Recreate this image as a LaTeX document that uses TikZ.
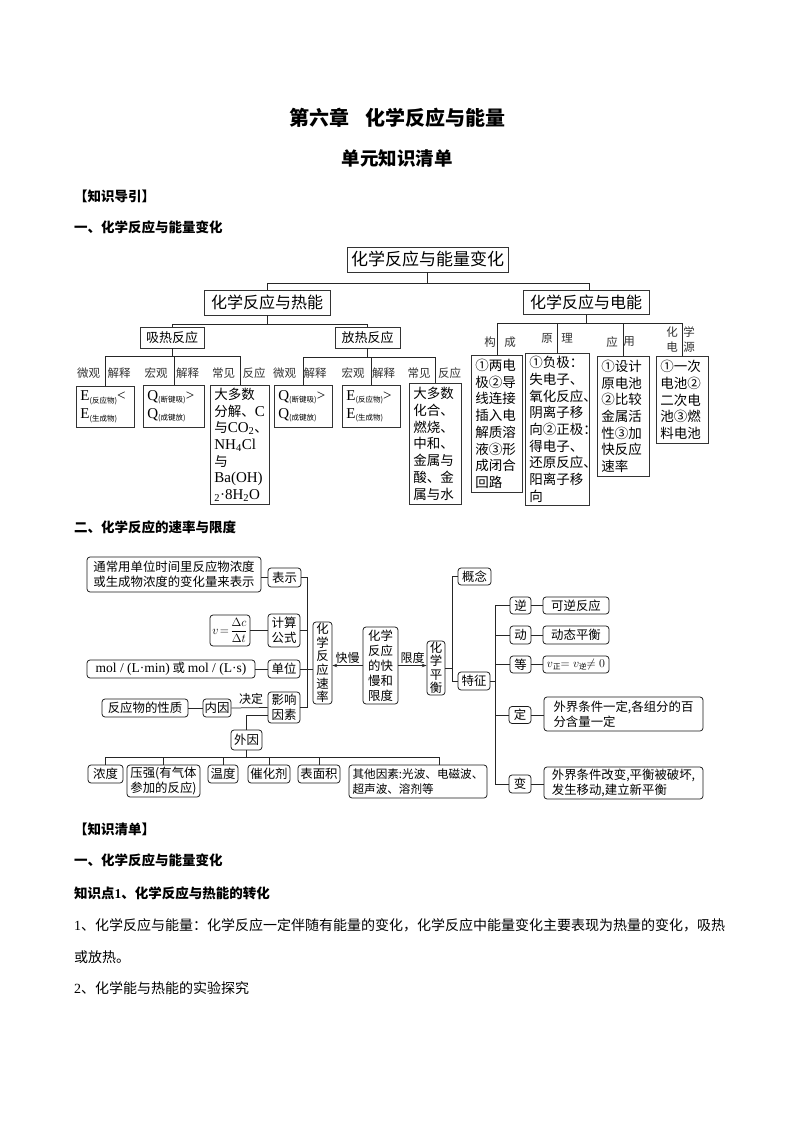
\documentclass[tikz,border=0pt]{standalone}
\usepackage[no-math]{fontspec}
\setmainfont{Noto Sans CJK SC}
\newfontfamily\tnr{Liberation Serif}
\usetikzlibrary{arrows.meta,calc}
\newcommand\fs[2]{\fontsize{#1}{#2}\selectfont}
\newcommand\sbz[1]{\raisebox{-2.5pt}{\fs{7.5}{8}#1}}
\newcommand\tn[1]{{\tnr\fontsize{15}{16.7}\selectfont #1}}
\begin{document}
\begin{tikzpicture}[x=1pt,y=-1pt,
  tb/.style={draw=black!80, line width=0.7pt, inner sep=0pt},
  tbt/.style={tb, anchor=north west, inner xsep=4pt, inner ysep=0pt, align=left, font=\fs{13.5}{16.7}},
  tl/.style={draw=black!85, line width=0.7pt},
  lbl/.style={font=\fs{11.5}{12}, text=black!80, inner sep=0pt},
  rb/.style={draw=black!90, rounded corners=3pt, line width=0.75pt, inner sep=0pt, align=center, font=\fs{12.4}{15}},
  cl/.style={draw=black!85, line width=0.75pt},
  arr/.style={cl, -{Stealth[length=5pt,width=3.5pt]}},
  hd/.style={anchor=west, inner sep=0pt, font=\bfseries\fs{13.5}{16}},
  bd/.style={anchor=west, inner sep=0pt, font=\fs{14}{16}}]
\path[fill=white] (0,0) rectangle (794,1123);

% ---- headings ----
\node[inner sep=0pt, font=\bfseries\fs{20}{24}] (title) at (397,118) {第六章\hspace{0.8em}化学反应与能量};
\node[inner sep=0pt, font=\bfseries\fs{18.5}{22}] (sub) at (397,158) {单元知识清单};
\node[hd] (h1) at (74,196) {【知识导引】};
\node[hd] (h2) at (74,227) {一、化学反应与能量变化};

% ---- diagram 1 ----
\node[tb, minimum width=161, minimum height=25, font=\fs{17}{20}] (R) at (427.5,259.5) {化学反应与能量变化};
\node[tb, minimum width=126, minimum height=25, font=\fs{16}{19}] (H) at (267,302.5) {化学反应与热能};
\node[tb, minimum width=126, minimum height=24, font=\fs{16}{19}] (D) at (586,302.5) {化学反应与电能};
\node[tb, minimum width=64, minimum height=21, font=\fs{13}{15}] (XR) at (172,337.5) {吸热反应};
\node[tb, minimum width=65, minimum height=21, font=\fs{13}{15}] (FR) at (367.5,337.5) {放热反应};

\node[tbt, minimum width=58, minimum height=41, text width=50, font=\fs{14}{18}] (E1) at (76,386)
  {\tn{E}\sbz{(反应物)}\tn{<}\\\tn{E}\sbz{(生成物)}};
\node[tbt, minimum width=61, minimum height=42, text width=53, font=\fs{14}{18}] (Q1) at (143,385)
  {\tn{Q}\sbz{(断键吸)}\tn{>}\\\tn{Q}\sbz{(成键放)}};
\node[tbt, minimum width=59, minimum height=119, text width=51] (B1) at (210,385)
  {大多数\\分解、\tn{C}\\与\tn{CO\textsubscript{2}}、\\\tn{NH\textsubscript{4}Cl}\\与\\\tn{Ba(OH)}\\\tn{\textsubscript{2}·8H\textsubscript{2}O}};
\node[tbt, minimum width=58, minimum height=42, text width=50, font=\fs{14}{18}] (Q2) at (274,385)
  {\tn{Q}\sbz{(断键吸)}\tn{>}\\\tn{Q}\sbz{(成键放)}};
\node[tbt, minimum width=58, minimum height=42, text width=50, font=\fs{14}{18}] (E2) at (342,385)
  {\tn{E}\sbz{(反应物)}\tn{>}\\\tn{E}\sbz{(生成物)}};
\node[tbt, minimum width=52, minimum height=121, text width=44] (B2) at (409,383)
  {大多数\\化合、\\燃烧、\\中和、\\金属与\\酸、金\\属与水};
\node[tbt, minimum width=51, minimum height=137, text width=43] (GC) at (471,355)
  {①两电\\极②导\\线连接\\插入电\\解质溶\\液③形\\成闭合\\回路};
\node[tbt, minimum width=64, minimum height=152, text width=56] (YL) at (525,353)
  {①负极：\\失电子、\\氧化反应\rlap{、}\\阴离子移\\向②正极\rlap{：}\\得电子、\\还原反应\rlap{、}\\阳离子移\\向};
\node[tbt, minimum width=52, minimum height=120, text width=44] (YY) at (597,356)
  {①设计\\原电池\\②比较\\金属活\\性③加\\快反应\\速率};
\node[tbt, minimum width=52, minimum height=87, text width=44] (DY) at (656,356)
  {①一次\\电池②\\二次电\\池③燃\\料电池};

\draw[tl] (R.south) -- ++(0,11) -| (H.north);
\draw[tl] (R.south) -- ++(0,11) -| ([xshift=3pt]D.north);
\draw[tl] (H.south) -- ++(0,9) -| (XR.north);
\draw[tl] (H.south) -- ++(0,9) -| (FR.north);
\foreach \c in {E1,Q1,B1} \draw[tl] (XR.south) -- ++(0,8) -| (\c.north);
\foreach \c in {Q2,E2,B2} \draw[tl] (FR.south) -- ++(0,9) -| (\c.north);
\foreach \c in {GC,YL,YY,DY} \draw[tl] (D.south) -- ++(0,8) -| (\c.north);

\node[lbl] (l1) at (88.5,373) {微观};
\node[lbl] (l2) at (119,373) {解释};
\node[lbl] (l3) at (156,373) {宏观};
\node[lbl] (l4) at (187.5,373) {解释};
\node[lbl] (l5) at (223.5,373) {常见};
\node[lbl] (l6) at (254,373) {反应};
\node[lbl] (l7) at (284.5,373) {微观};
\node[lbl] (l8) at (315,373) {解释};
\node[lbl] (l9) at (353,373) {宏观};
\node[lbl] (l10) at (383.5,373) {解释};
\node[lbl] (l11) at (419,373) {常见};
\node[lbl] (l12) at (449.5,373) {反应};
\node[lbl] (m1) at (490,342) {构};
\node[lbl] (m2) at (510,342) {成};
\node[lbl] (m3) at (547,338) {原};
\node[lbl] (m4) at (567,338) {理};
\node[lbl] (m5) at (612,342) {应};
\node[lbl] (m6) at (629,342) {用};
\node[lbl] (m7) at (672,332) {化};
\node[lbl] (m8) at (672,347) {电};
\node[lbl] (m9) at (689,332) {学};
\node[lbl] (m10) at (689,347) {源};

% ---- section 2 ----
\node[hd] (h3) at (74,527) {二、化学反应的速率与限度};

\node[rb, minimum width=174, minimum height=35] (A) at (174,574.5) {通常用单位时间里反应物浓度\\或生成物浓度的变化量来表示};
\node[rb, minimum width=33, minimum height=19] (bs) at (284.5,577.5) {表示};
\node[rb, minimum width=40, minimum height=31, font=\fs{11.5}{13}] (fm) at (230,630.5) {$v\!=\!\displaystyle\frac{\Delta c}{\Delta t}$};
\node[rb, minimum width=32, minimum height=33] (js) at (284,630.5) {计算\\公式};
\node[rb, minimum width=168, minimum height=18] (mol) at (171,669) {{\tnr\fs{13.5}{15}mol / (L·min)} 或 {\tnr\fs{13.5}{15}mol / (L·s)}};
\node[rb, minimum width=32, minimum height=18] (dw) at (284,669) {单位};
\node[rb, minimum width=19, minimum height=82, font=\fs{12.4}{13.6}] (SL) at (322.5,663) {化\\学\\反\\应\\速\\率};
\node[rb, minimum width=32, minimum height=31] (yx) at (284,707.5) {影响\\因素};
\node[rb, minimum width=28, minimum height=18] (ny) at (217,708) {内因};
\node[rb, minimum width=86, minimum height=18] (xz) at (145,708) {反应物的性质};
\node[font=\fs{12}{13}, inner sep=0pt] (jd) at (251,699) {决定};
\node[rb, minimum width=31, minimum height=20] (wy) at (246.5,740) {外因};
\node[rb, minimum width=35, minimum height=18] (nd) at (105.5,774) {浓度};
\node[rb, minimum width=73, minimum height=32] (yq) at (163.5,781) {压强(有气体\\参加的反应)};
\node[rb, minimum width=30, minimum height=18] (wd) at (223,774) {温度};
\node[rb, minimum width=42, minimum height=18] (ch) at (269,774) {催化剂};
\node[rb, minimum width=42, minimum height=18] (bm) at (319,774) {表面积};
\node[rb, minimum width=138, minimum height=33, align=left, font=\fs{11.6}{15}] (qt) at (418,781.5) {其他因素:光波、电磁波、\\超声波、溶剂等};

\node[rb, minimum width=35, minimum height=77, font=\fs{12.4}{15}] (MID) at (380.5,665.5) {化学\\反应\\的快\\慢和\\限度};
\node[rb, minimum width=18, minimum height=54, font=\fs{12.4}{13.5}] (PH) at (436,668) {化\\学\\平\\衡};
\node[rb, minimum width=33, minimum height=17] (gn) at (474.5,576.5) {概念};
\node[rb, minimum width=32, minimum height=18] (tz) at (474,681) {特征};
\node[rb, minimum width=21, minimum height=17] (ni) at (520.5,605.5) {逆};
\node[rb, minimum width=66, minimum height=17] (kn) at (576,605.5) {可逆反应};
\node[rb, minimum width=21, minimum height=18] (dg) at (520.5,635) {动};
\node[rb, minimum width=66, minimum height=18] (dt) at (576,635) {动态平衡};
\node[rb, minimum width=21, minimum height=17] (dn) at (520.5,664.5) {等};
\node[rb, minimum width=66, minimum height=17, font=\fs{12.5}{14}] (ve) at (576,664.5) {$v$\raisebox{-2pt}{\fs{7.5}{8}正}$=v$\raisebox{-2pt}{\fs{7.5}{8}逆}$\neq0$};
\node[rb, minimum width=22, minimum height=17] (dd) at (520,715) {定};
\node[rb, minimum width=159, minimum height=34, align=left] (dtx) at (623.5,714) {外界条件一定,各组分的百\\分含量一定};
\node[rb, minimum width=22, minimum height=18] (bi) at (520,784) {变};
\node[rb, minimum width=159, minimum height=32, align=left] (btx) at (623.5,783) {外界条件改变,平衡被破坏,\\发生移动,建立新平衡};

\coordinate (t1) at (307,0);
\coordinate (t2) at (452,0);
\coordinate (t3) at (495,0);
\draw[cl] (A.east |- bs.west) -- (bs.west);
\draw[cl] (bs.east) -| (t1 |- yx.east) -- (yx.east);
\draw[cl] (fm.east) -- (js.west);
\draw[cl] (js.east) -- (js.east -| t1);
\draw[cl] (mol.east) -- (dw.west);
\draw[cl] (dw.east) -- (dw.east -| SL.west);
\draw[cl] (xz.east) -- (ny.west);
\draw[cl] (ny.east) -- (yx.west);
\draw[cl] ($(yx.west)+(0,7.5)$) -| (wy.north);
\foreach \c in {nd,yq,wd,ch,bm} \draw[cl] (wy.south) -- ++(0,7) -| (\c.north);
\draw[cl] (wy.south) -- ++(0,7) -| ($(qt.north)+(21,0)$);
\draw[arr] (MID.west) -- (MID.west -| SL.east) node[midway, above=2pt, inner sep=0pt, font=\fs{12}{13}] (km) {快慢};
\draw[arr] (MID.east) -- (MID.east -| PH.west) node[midway, above=2pt, inner sep=0pt, font=\fs{12}{13}] (xd) {限度};
\draw[cl] (PH.east) -- (PH.east -| t2);
\draw[cl] (gn.west) -| (t2 |- tz.west) -- (tz.west);
\draw[cl] (tz.east) -- (tz.east -| t3);
\draw[cl] (ni.west) -| (t3 |- bi.west) -- (bi.west);
\foreach \n in {dg,dn,dd} \draw[cl] (\n.west) -- (\n.west -| t3);
\draw[cl] (ni.east) -- (kn.west);
\draw[cl] (dg.east) -- (dt.west);
\draw[cl] (dn.east) -- (ve.west);
\draw[cl] (dd.east) -- (dd.east -| dtx.west);
\draw[cl] (bi.east) -- (bi.east -| btx.west);

% ---- text below ----
\node[hd] (h4) at (74,829) {【知识清单】};
\node[hd] (h5) at (74,860) {一、化学反应与能量变化};
\node[hd] (h6) at (74,893) {知识点{\tnr 1}、化学反应与热能的转化};
\node[bd] (p1) at (74,925) {{\tnr 1}、化学反应与能量：化学反应一定伴随有能量的变化，化学反应中能量变化主要表现为热量的变化，吸热};
\node[bd] (p2) at (74,957) {或放热。};
\node[bd] (p3) at (74,988) {{\tnr 2}、化学能与热能的实验探究};
\end{tikzpicture}
\end{document}
